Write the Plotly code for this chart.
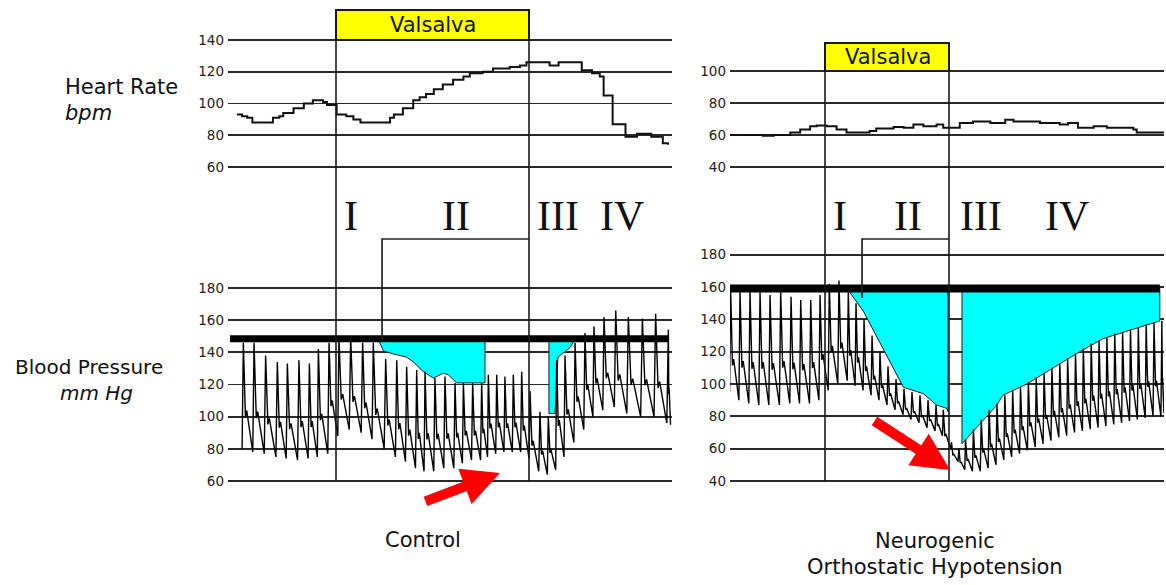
import plotly.graph_objects as go

W, H = 1166, 585

# ---------------- DATA (time in s from Valsalva onset) ----------------
VALSALVA = [0, 15]

# Control: heart rate (step values)
L_HR_T = [-7.7, -7.3, -6.9, -6.5, -4.9, -4.4, -4.1, -3.3, -2.5, -1.8, -1.0, -0.7, 0.05, 0.8, 1.35, 1.9,
          4.2, 4.5, 5.2, 6.0, 6.5, 7.0, 7.6, 8.3, 9.1, 9.9, 10.4, 11.4, 12.2, 13.5, 14.3, 14.8,
          16.6, 17.3, 19.1, 19.9, 20.5, 20.8, 21.5, 22.5, 23.4, 24.5, 25.4, 25.8]
L_HR_V = [93, 92, 91, 88, 91, 92, 94, 97, 100, 102, 101, 99, 93, 92, 90, 88,
          91, 93, 97, 102, 104, 106, 109, 112, 115, 117, 119, 120, 122, 123, 124, 126,
          124, 126, 121, 119, 117, 105, 87, 79, 81, 79, 75, 74]

# Control: blood pressure beats (peak time, systolic, preceding diastolic)
L_BEAT_T = [-7.20, -6.37, -5.47, -4.56, -3.78, -2.88, -2.07, -1.37, -0.54, 0.23, 1.14, 2.07, 2.90,
            3.86, 4.72, 5.49, 6.27, 6.92, 7.69, 8.47, 9.25, 9.90, 10.62, 11.32, 11.84, 12.49, 13.13,
            13.78, 14.43, 15.08, 15.85, 16.50, 17.15, 17.80, 18.58, 19.35, 20.05, 20.83, 21.74,
            22.72, 23.81, 24.84, 25.83]
L_SYS = [146, 146, 138, 134, 133, 135, 133, 142, 146, 150, 150, 146, 146, 136, 135, 131, 129, 128,
         124, 125, 121, 121, 121, 121, 126, 126, 125, 126, 128, 116, 103, 100, 135, 138, 146, 152,
         156, 162, 166, 162, 161, 164, 154]
L_DIA = [80, 78, 77, 75, 74, 73, 74, 75, 77, 88, 92, 90, 86, 80, 75, 72, 68, 66, 66, 68, 68, 71,
         73, 73, 75, 77, 78, 78, 78, 74, 66, 64, 67, 75, 84, 92, 100, 104, 106, 102, 100, 100, 96]
L_END = [26.0, 95]
L_BASE = 148.5
L_BASE_T = [-8.24, 25.8]
L_CYAN_A_T = [3.29, 3.68, 4.46, 5.49, 6.01, 6.79, 7.56, 8.34, 8.73, 9.38, 11.58]
L_CYAN_A_V = [148, 141, 139, 137, 134, 128, 124, 127, 126, 121, 121]
L_CYAN_B_T = [16.55, 16.55, 17.02, 17.25, 18.19, 18.42]
L_CYAN_B_V = [148, 102, 102, 137, 143, 146]

# Neurogenic OH: heart rate
R_HR_T = [-11.5, -7.5, -6.2, -4.2, -3.0, -1.8, -1.0, 0.2, 1.4, 2.6, 5.4, 6.2, 8.3, 9.5, 10.7, 11.9,
          13.5, 14.3, 16.3, 17.9, 20.0, 21.8, 22.8, 26.0, 28.4, 29.4, 30.6, 32.5, 34.1, 37.3, 37.7, 41.0]
R_HR_V = [60, 59.5, 60, 61.5, 63.5, 65.5, 66, 65.5, 63.5, 61.5, 62.5, 64, 65, 64.5, 66.5, 65.5,
          66.5, 64.5, 67.5, 68.5, 67.5, 69.5, 68.5, 67.5, 66.5, 67.5, 64.5, 65.5, 64.5, 63.5, 61.5, 61.5]

# Neurogenic OH: blood pressure beats
R_BEAT_T = [-11.41, -10.28, -9.07, -7.86, -6.65, -5.36, -4.11, -2.94, -1.73, -0.60,
            0.52, 1.69,
            2.82, 3.75, 4.72, 5.69, 6.65, 7.62, 8.59, 9.56, 10.52, 11.49, 12.46, 13.43, 14.31,
            15.3, 16.2,
            17.0, 17.95, 18.9, 19.85, 20.8, 21.75, 22.7, 23.65, 24.6, 25.55, 26.5, 27.45, 28.4, 29.35,
            30.3, 31.25, 32.2, 33.15, 34.1, 35.05, 36.0, 36.95, 37.9, 38.85, 39.8, 40.75]
R_SYS = [157, 157, 157, 157, 155, 157, 154, 152, 152, 155,
         162, 164,
         157, 150, 140, 130, 120, 111, 103, 97, 95, 93, 90, 87, 84,
         64, 60,
         66, 72, 78, 84, 88, 93, 96, 98, 101, 104, 107, 110, 113, 116, 119, 122, 125, 127, 129,
         131, 132, 134, 135, 137, 138, 139]
R_DIA = [95, 90, 88, 87, 87, 87, 88, 88, 88, 90,
         96, 100,
         102, 99, 96, 93, 90, 87, 84, 81, 78, 76, 73, 71, 68,
         60, 52,
         47, 46, 46, 48, 50, 53, 55, 57, 59, 61, 63, 65, 67, 68, 70, 71, 72, 73, 74, 75, 76, 77,
         78, 79, 80, 80]
R_END = [41.0, 82]
R_BASE = 159
R_BASE_T = [-11.49, 40.5]
R_CYAN_A_T = [2.82, 4.64, 9.48, 11.9, 13.5, 14.7, 14.88]
R_CYAN_A_V = [158, 145, 98, 94, 87, 85, 83]
R_CYAN_B_T = [16.57, 16.57, 20.8, 21.5, 24.4, 30.5, 33.6, 40.5]
R_CYAN_B_V = [158, 63, 87, 93, 100, 119, 128, 139]

HR_TICKS_L = [60, 80, 100, 120, 140]
BP_TICKS_L = [60, 80, 100, 120, 140, 160, 180]
HR_TICKS_R = [40, 60, 80, 100]
BP_TICKS_R = [40, 60, 80, 100, 120, 140, 160, 180]

# ---------------- helpers ----------------
def py(p):
    return 1 - p / H

def px(p):
    return p / W

def xaxis_cal(p_lo, p_hi, p_v0, p_v1):
    s = (p_v1 - p_v0) / (VALSALVA[1] - VALSALVA[0])
    rng = [(p_lo - p_v0) / s, (p_hi - p_v0) / s]
    return [px(p_lo), px(p_hi)], rng

def yaxis_cal(va, pa, vb, pb, lo, hi):
    s = (pb - pa) / (vb - va)
    p_lo = pa + (lo - va) * s
    p_hi = pa + (hi - va) * s
    return [py(p_lo), py(p_hi)], [lo, hi]

def waveform(tp, sysv, diav, end):
    xs, ys = [], []
    n = len(tp)
    for i in range(n):
        gap_prev = tp[i] - tp[i - 1] if i > 0 else tp[1] - tp[0]
        r = 0.12 * gap_prev
        xs += [tp[i] - r, tp[i]]
        ys += [diav[i], sysv[i]]
        if i < n - 1:
            t_on = tp[i + 1] - 0.12 * (tp[i + 1] - tp[i])
            dn = diav[i + 1]
        else:
            t_on, dn = end
        span = t_on - tp[i]
        amp = sysv[i] - dn
        xs += [tp[i] + 0.22 * span, tp[i] + 0.36 * span, t_on]
        ys += [dn + 0.32 * amp, dn + 0.38 * amp, dn]
    return xs, ys

def poly(t, v, base):
    return t + [t[-1], t[0]], v + [base, base]

# ---------------- figure ----------------
fig = go.Figure()

lx_dom, lx_rng = xaxis_cal(228, 672, 336, 529)
rx_dom, rx_rng = xaxis_cal(730, 1164, 825, 949)
lhr_dom, lhr_rng = yaxis_cal(60, 167, 140, 40, 58.5, 141.5)
lbp_dom, lbp_rng = yaxis_cal(60, 481, 180, 288, 58.5, 181.5)
rhr_dom, rhr_rng = yaxis_cal(40, 167, 100, 71, 38.5, 101.5)
rbp_dom, rbp_rng = yaxis_cal(40, 481, 160, 287, 38.5, 181.5)

LINE = '#1a1a1a'

# cyan areas
for (t, v, base, xa, ya) in [
    (L_CYAN_A_T, L_CYAN_A_V, L_BASE, 'x', 'y2'),
    (L_CYAN_B_T, L_CYAN_B_V, L_BASE, 'x', 'y2'),
    (R_CYAN_A_T, R_CYAN_A_V, R_BASE, 'x2', 'y4'),
    (R_CYAN_B_T, R_CYAN_B_V, R_BASE, 'x2', 'y4'),
]:
    xx, yy = poly(t, v, base)
    fig.add_trace(go.Scatter(x=xx, y=yy, mode='lines', fill='toself', fillcolor='#00ffff',
                             line=dict(color=LINE, width=1), xaxis=xa, yaxis=ya,
                             hoverinfo='skip', showlegend=False))

# BP waveforms
wx, wy = waveform(L_BEAT_T, L_SYS, L_DIA, L_END)
fig.add_trace(go.Scatter(x=wx, y=wy, mode='lines', line=dict(color='black', width=1.4),
                         xaxis='x', yaxis='y2', showlegend=False))
wx, wy = waveform(R_BEAT_T, R_SYS, R_DIA, R_END)
fig.add_trace(go.Scatter(x=wx, y=wy, mode='lines', line=dict(color='black', width=1.4),
                         xaxis='x2', yaxis='y4', showlegend=False))

# baselines
fig.add_trace(go.Scatter(x=L_BASE_T, y=[L_BASE, L_BASE], mode='lines',
                         line=dict(color='black', width=7), xaxis='x', yaxis='y2', showlegend=False))
fig.add_trace(go.Scatter(x=R_BASE_T, y=[R_BASE, R_BASE], mode='lines',
                         line=dict(color='black', width=8), xaxis='x2', yaxis='y4', showlegend=False))

# HR traces
fig.add_trace(go.Scatter(x=L_HR_T, y=L_HR_V, mode='lines', line=dict(color='#111', width=2, shape='hv'),
                         xaxis='x', yaxis='y', showlegend=False))
fig.add_trace(go.Scatter(x=R_HR_T, y=R_HR_V, mode='lines', line=dict(color='#111', width=2, shape='hv'),
                         xaxis='x2', yaxis='y3', showlegend=False))

tickfont = dict(family='DejaVu Sans', size=13.5, color='#222')
def yax(dom, rng, ticks, anchor):
    return dict(domain=dom, range=rng, tickvals=ticks, showgrid=True, gridcolor='#2a2a2a',
                gridwidth=1.7, zeroline=False, showline=False, ticks='', tickfont=tickfont,
                anchor=anchor, fixedrange=True, ticklabelstandoff=3, automargin=False)

fig.update_layout(
    template='none',
    width=W, height=H, margin=dict(l=0, r=0, t=0, b=0, pad=0, autoexpand=False),
    paper_bgcolor='white', plot_bgcolor='rgba(0,0,0,0)',
    xaxis=dict(domain=lx_dom, range=lx_rng, visible=False, anchor='y2', automargin=False, fixedrange=True),
    xaxis2=dict(domain=rx_dom, range=rx_rng, visible=False, anchor='y4', automargin=False, fixedrange=True),
    yaxis=yax(lhr_dom, lhr_rng, HR_TICKS_L, 'x'),
    yaxis2=yax(lbp_dom, lbp_rng, BP_TICKS_L, 'x'),
    yaxis3=yax(rhr_dom, rhr_rng, HR_TICKS_R, 'x2'),
    yaxis4=yax(rbp_dom, rbp_rng, BP_TICKS_R, 'x2'),
    showlegend=False,
)

shapes = []
# Valsalva boxes and phase boundaries
for xr, top, boxbot in [('x', 10, 40), ('x2', 43, 71)]:
    shapes.append(dict(type='rect', xref=xr, yref='paper', x0=VALSALVA[0], x1=VALSALVA[1],
                       y0=py(boxbot), y1=py(top), fillcolor='#ffff00', line=dict(color=LINE, width=2),
                       layer='above'))
    for xv in VALSALVA:
        shapes.append(dict(type='line', xref=xr, yref='paper', x0=xv, x1=xv, y0=py(481), y1=py(top),
                           line=dict(color=LINE, width=1.6), layer='above'))
# brackets (phase II)
shapes.append(dict(type='path', xref='x', yref='paper',
                   path=f'M 3.58 {py(340)} L 3.58 {py(239)} L {VALSALVA[1]} {py(239)}',
                   line=dict(color='#222', width=1.7), layer='above'))
shapes.append(dict(type='path', xref='x2', yref='paper',
                   path=f'M 4.48 {py(298)} L 4.48 {py(239)} L {VALSALVA[1]} {py(239)}',
                   line=dict(color='#222', width=1.7), layer='above'))
fig.update_layout(shapes=shapes)

ann = []
def text(x, y, s, size, family='DejaVu Sans', xanchor='center', color='#111'):
    ann.append(dict(x=px(x), y=py(y), xref='paper', yref='paper', text=s, showarrow=False,
                    xanchor=xanchor, yanchor='middle', font=dict(family=family, size=size, color=color)))

text(432.5, 25, 'Valsalva', 21)
text(888, 57, 'Valsalva', 21)
text(63, 87, 'Heart Rate', 21, xanchor='left')
text(63, 113, '<i>bpm</i>', 21, xanchor='left')
text(13, 367, 'Blood Pressure', 20, xanchor='left')
text(96, 393, '<i>mm Hg</i>', 20)
text(423, 540, 'Control', 21)
text(935, 541, 'Neurogenic', 21)
text(935, 567, 'Orthostatic Hypotension', 21)

serif = 'Liberation Serif'
for x, s in [(351, 'I'), (456, 'II'), (558, 'III'), (622, 'IV'),
             (840, 'I'), (908, 'II'), (981, 'III'), (1067, 'IV')]:
    text(x, 216, s, 42, family=serif)

# red arrows
for (hx, hy, ax, ay) in [(500, 473, -76, 29), (950, 470, -77, -50)]:
    ann.append(dict(x=px(hx), y=py(hy), xref='paper', yref='paper', text='', showarrow=True,
                    ax=ax, ay=ay, axref='pixel', ayref='pixel', arrowcolor='#ff0000',
                    arrowwidth=10, arrowhead=2, arrowsize=0.75, standoff=0))
fig.update_layout(annotations=ann)

fig.write_html('out.html', config={'displayModeBar': False, 'staticPlot': True},
               post_script="document.body.style.margin='0';document.body.style.overflow='hidden';")
